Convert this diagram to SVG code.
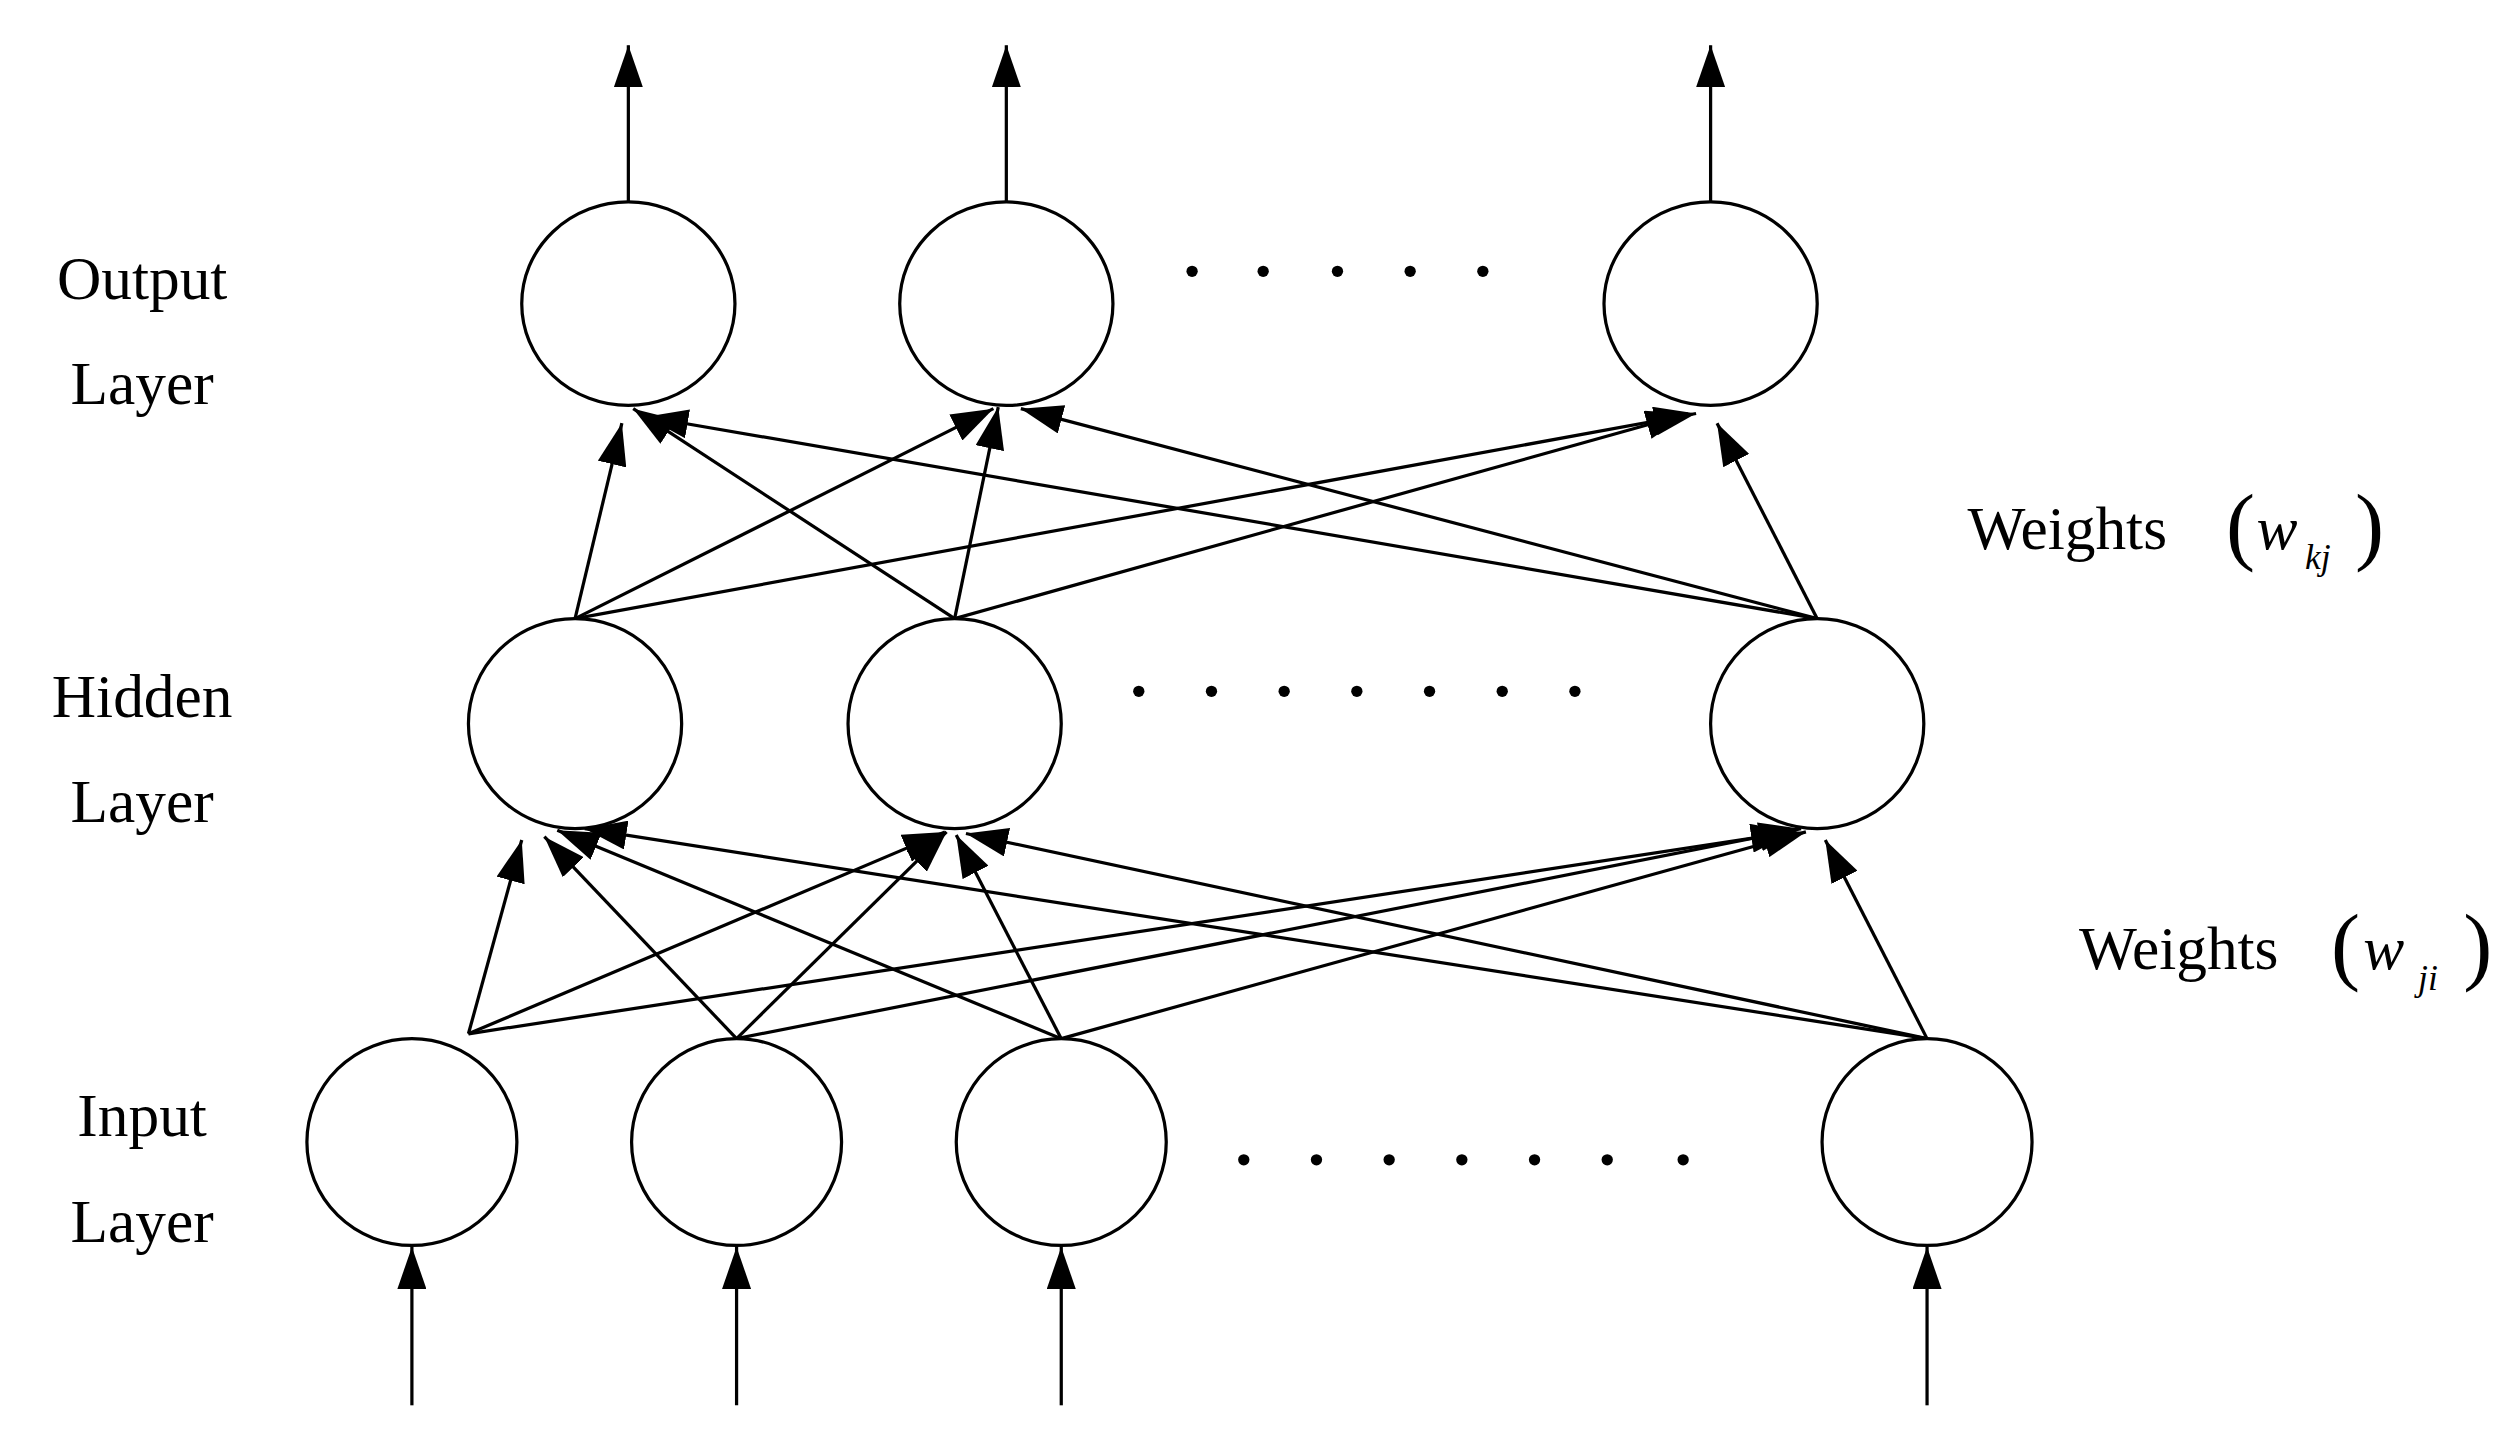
<svg xmlns="http://www.w3.org/2000/svg" width="2507" height="1429" viewBox="0 0 2507 1429">
<defs>
<marker id="ah" markerWidth="10" markerHeight="8" refX="10" refY="4" orient="auto" markerUnits="userSpaceOnUse" viewBox="0 0 10 8">
<path d="M0,0 L10,4 L0,8 Z" fill="#000"/>
</marker>
<marker id="ahb" markerWidth="26" markerHeight="18" refX="26" refY="9" orient="auto" markerUnits="userSpaceOnUse" viewBox="0 0 26 18">
<path d="M0,0 L26,9 L0,18 Z" fill="#000"/>
</marker>
</defs>
<style>
.n{fill:#fff;stroke:#000;stroke-width:2}
.c line{stroke:#000;stroke-width:2;marker-end:url(#ahb)}
.t{font-family:"Liberation Serif",serif;font-size:38px;fill:#000}
.d{fill:#000}
</style>
<rect width="2507" height="1429" fill="#fff"/>
<g transform="scale(1.6153)">
<g id="connectors" class="c">
<line x1="389" y1="125" x2="389" y2="28"/>
<line x1="623" y1="125" x2="623" y2="28"/>
<line x1="1059" y1="125" x2="1059" y2="28"/>
<line x1="255" y1="870" x2="255" y2="772"/>
<line x1="456" y1="870" x2="456" y2="772"/>
<line x1="657" y1="870" x2="657" y2="772"/>
<line x1="1193" y1="870" x2="1193" y2="772"/>
<line x1="356" y1="383" x2="385" y2="262"/>
<line x1="356" y1="383" x2="615" y2="253"/>
<line x1="356" y1="383" x2="1050" y2="256"/>
<line x1="591" y1="383" x2="392" y2="253"/>
<line x1="591" y1="383" x2="618" y2="252"/>
<line x1="591" y1="383" x2="1045" y2="256"/>
<line x1="1125" y1="383" x2="400" y2="258"/>
<line x1="1125" y1="383" x2="632" y2="253"/>
<line x1="1125" y1="383" x2="1063" y2="262"/>
<line x1="290" y1="640" x2="323" y2="520"/>
<line x1="290" y1="640" x2="585" y2="515"/>
<line x1="290" y1="640" x2="1110" y2="515"/>
<line x1="456" y1="643" x2="337" y2="518"/>
<line x1="456" y1="643" x2="586" y2="515"/>
<line x1="456" y1="643" x2="1115" y2="513"/>
<line x1="657" y1="643" x2="345" y2="514"/>
<line x1="657" y1="643" x2="592" y2="517"/>
<line x1="657" y1="643" x2="1118" y2="515"/>
<line x1="1193" y1="643" x2="362" y2="513"/>
<line x1="1193" y1="643" x2="598" y2="516"/>
<line x1="1193" y1="643" x2="1130" y2="520"/>
</g>
<g id="o1"><ellipse class="n" cx="389" cy="188" rx="66" ry="63"/></g>
<g id="o2"><ellipse class="n" cx="623" cy="188" rx="66" ry="63"/></g>
<g id="o3"><ellipse class="n" cx="1059" cy="188" rx="66" ry="63"/></g>
<g id="h1"><ellipse class="n" cx="356" cy="448" rx="66" ry="65"/></g>
<g id="h2"><ellipse class="n" cx="591" cy="448" rx="66" ry="65"/></g>
<g id="h3"><ellipse class="n" cx="1125" cy="448" rx="66" ry="65"/></g>
<g id="i1"><ellipse class="n" cx="255" cy="707" rx="65" ry="64"/></g>
<g id="i2"><ellipse class="n" cx="456" cy="707" rx="65" ry="64"/></g>
<g id="i3"><ellipse class="n" cx="657" cy="707" rx="65" ry="64"/></g>
<g id="i4"><ellipse class="n" cx="1193" cy="707" rx="65" ry="64"/></g>
<g id="dots">
<circle class="d" cx="738" cy="168" r="3.5"/><circle class="d" cx="782" cy="168" r="3.5"/><circle class="d" cx="828" cy="168" r="3.5"/><circle class="d" cx="873" cy="168" r="3.5"/><circle class="d" cx="918" cy="168" r="3.5"/>
<circle class="d" cx="705" cy="428" r="3.5"/><circle class="d" cx="750" cy="428" r="3.5"/><circle class="d" cx="795" cy="428" r="3.5"/><circle class="d" cx="840" cy="428" r="3.5"/><circle class="d" cx="885" cy="428" r="3.5"/><circle class="d" cx="930" cy="428" r="3.5"/><circle class="d" cx="975" cy="428" r="3.5"/>
<circle class="d" cx="770" cy="718" r="3.5"/><circle class="d" cx="815" cy="718" r="3.5"/><circle class="d" cx="860" cy="718" r="3.5"/><circle class="d" cx="905" cy="718" r="3.5"/><circle class="d" cx="950" cy="718" r="3.5"/><circle class="d" cx="995" cy="718" r="3.5"/><circle class="d" cx="1042" cy="718" r="3.5"/>
</g>
<g id="labels">
<text class="t" x="88" y="185" text-anchor="middle">Output</text>
<text class="t" x="88" y="250" text-anchor="middle">Layer</text>
<text class="t" x="88" y="444" text-anchor="middle">Hidden</text>
<text class="t" x="88" y="509" text-anchor="middle">Layer</text>
<text class="t" x="88" y="703" text-anchor="middle">Input</text>
<text class="t" x="88" y="769" text-anchor="middle">Layer</text>
<text class="t" x="1218" y="340">Weights</text>
<text class="t" x="1378" y="343" style="font-size:54px;font-weight:100">(</text>
<text class="t" x="1397" y="340" font-style="italic">w</text>
<text class="t" x="1427" y="352" font-style="italic" style="font-size:22px">kj</text>
<text class="t" x="1458" y="343" style="font-size:54px;font-weight:100">)</text>
<text class="t" x="1287" y="600">Weights</text>
<text class="t" x="1443" y="603" style="font-size:54px">(</text>
<text class="t" x="1463" y="600" font-style="italic">w</text>
<text class="t" x="1497" y="613" font-style="italic" style="font-size:22px">ji</text>
<text class="t" x="1525" y="603" style="font-size:54px">)</text>
</g>
</g>
</svg>
